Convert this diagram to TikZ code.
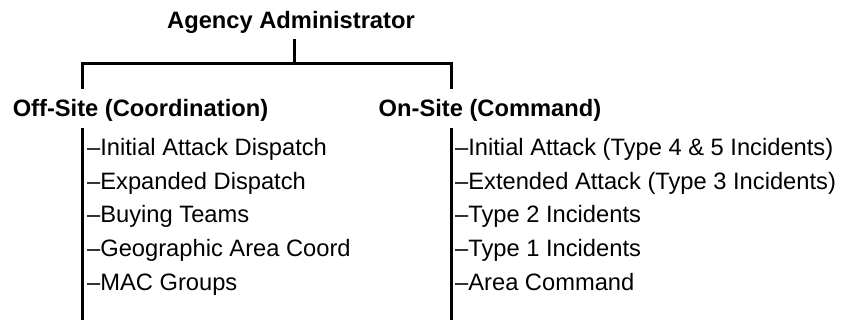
\documentclass[tikz,border=0pt]{standalone}
\usepackage{fontspec}
\setmainfont{Liberation Sans}
\usetikzlibrary{positioning}
\newcommand{\txtsize}{\fontsize{23.7}{28}\selectfont}
\tikzset{
  head/.style={anchor=base, inner sep=0pt, font=\txtsize\bfseries},
  item/.style={anchor=base west, inner sep=0pt, font=\txtsize},
  tree/.style={line width=3pt}
}

\begin{document}
\begin{tikzpicture}[x=1pt, y=-1pt]
            \useasboundingbox (0,0) rectangle (847,320);

            %Nodes
            \node[head] at (291,29) (admin) {Agency Administrator};
            \node[head] at (140.5,116.5) (offsite) {Off-Site (Coordination)};
            \node[head] at (490,116.5) (onsite) {On-Site (Command)};

            \node[item] at (87,155.5) (off1) {--Initial Attack Dispatch};
            \node[item] at (87,189.5) (off2) {--Expanded Dispatch};
            \node[item] at (87,222.5) (off3) {--Buying Teams};
            \node[item] at (87,256.5) (off4) {--Geographic Area Coord};
            \node[item] at (87,290.5) (off5) {--MAC Groups};

            \node[item] at (455,155.5) (on1) {--Initial Attack (Type 4 \& 5 Incidents)};
            \node[item] at (455,189.5) (on2) {--Extended Attack (Type 3 Incidents)};
            \node[item] at (455,222.5) (on3) {--Type 2 Incidents};
            \node[item] at (455,256.5) (on4) {--Type 1 Incidents};
            \node[item] at (455,290.5) (on5) {--Area Command};

            %Coordinates
            \coordinate (top) at (294,39);
            \coordinate (split) at (294,64);
            \coordinate (barL) at (82,64);
            \coordinate (barR) at (451,64);
            \coordinate (dropL) at (82,89);
            \coordinate (dropR) at (451,89);
            \coordinate (listL) at (82,128);
            \coordinate (listR) at (451,128);
            \coordinate (endL) at (82,320);
            \coordinate (endR) at (451,320);

            %Lines
            \draw[tree] (top) -- (split);
            \draw[tree] (dropL) -- (barL) -- (barR) -- (dropR);
            \draw[tree] (listL) -- (endL);
            \draw[tree] (listR) -- (endR);
        \end{tikzpicture}
\end{document}
